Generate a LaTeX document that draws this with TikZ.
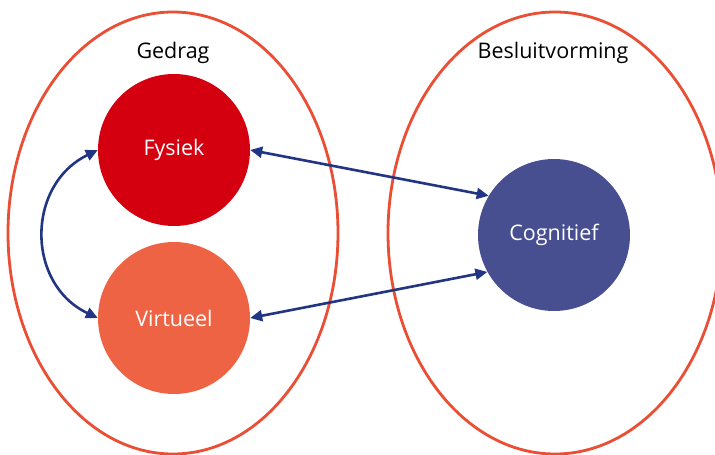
\documentclass[tikz,border=0pt]{standalone}
\usepackage{fontspec}
\setmainfont{Open Sans}
\usetikzlibrary{arrows.meta}
\definecolor{ring}{RGB}{234,78,52}
\definecolor{fys}{RGB}{212,0,16}
\definecolor{vir}{RGB}{238,99,68}
\definecolor{cog}{RGB}{72,79,145}
\definecolor{arr}{RGB}{33,53,132}
\tikzset{
  ringstyle/.style={draw=ring, line width=2.8pt},
  ball/.style={circle, minimum size=152pt, inner sep=0pt, text=white, font=\fontsize{21.5}{24}\selectfont},
  title/.style={font=\fontsize{21.5}{24}\selectfont, text=black},
  link/.style={draw=arr, line width=2.6pt, {Triangle[length=12pt,width=11pt]}-{Triangle[length=12pt,width=11pt]}}
}
\begin{document}
\begin{tikzpicture}[x=1pt,y=-1pt]
\useasboundingbox (0,0) rectangle (715,455);
\draw[ringstyle] (173,233) ellipse [x radius=165, y radius=221];
\draw[ringstyle] (555,233) ellipse [x radius=167, y radius=221];
\node[title] (gedrag) at (173,53) {Gedrag};
\node[title] (besluit) at (553,53) {Besluitvorming};
\node[ball, fill=fys] (fysiek) at (174,150) {Fysiek};
\node[ball, fill=vir] (virtueel) at (174,318) {Virtueel};
\node[ball, fill=cog] (cogn) at (554,235) {Cognitief};
\draw[link] (fysiek.east) -- (cogn.149);
\draw[link] (virtueel.east) -- (cogn.209);
\draw[link] (fysiek.west) .. controls (26,185) and (26,284) .. (virtueel.west);
\end{tikzpicture}
\end{document}
